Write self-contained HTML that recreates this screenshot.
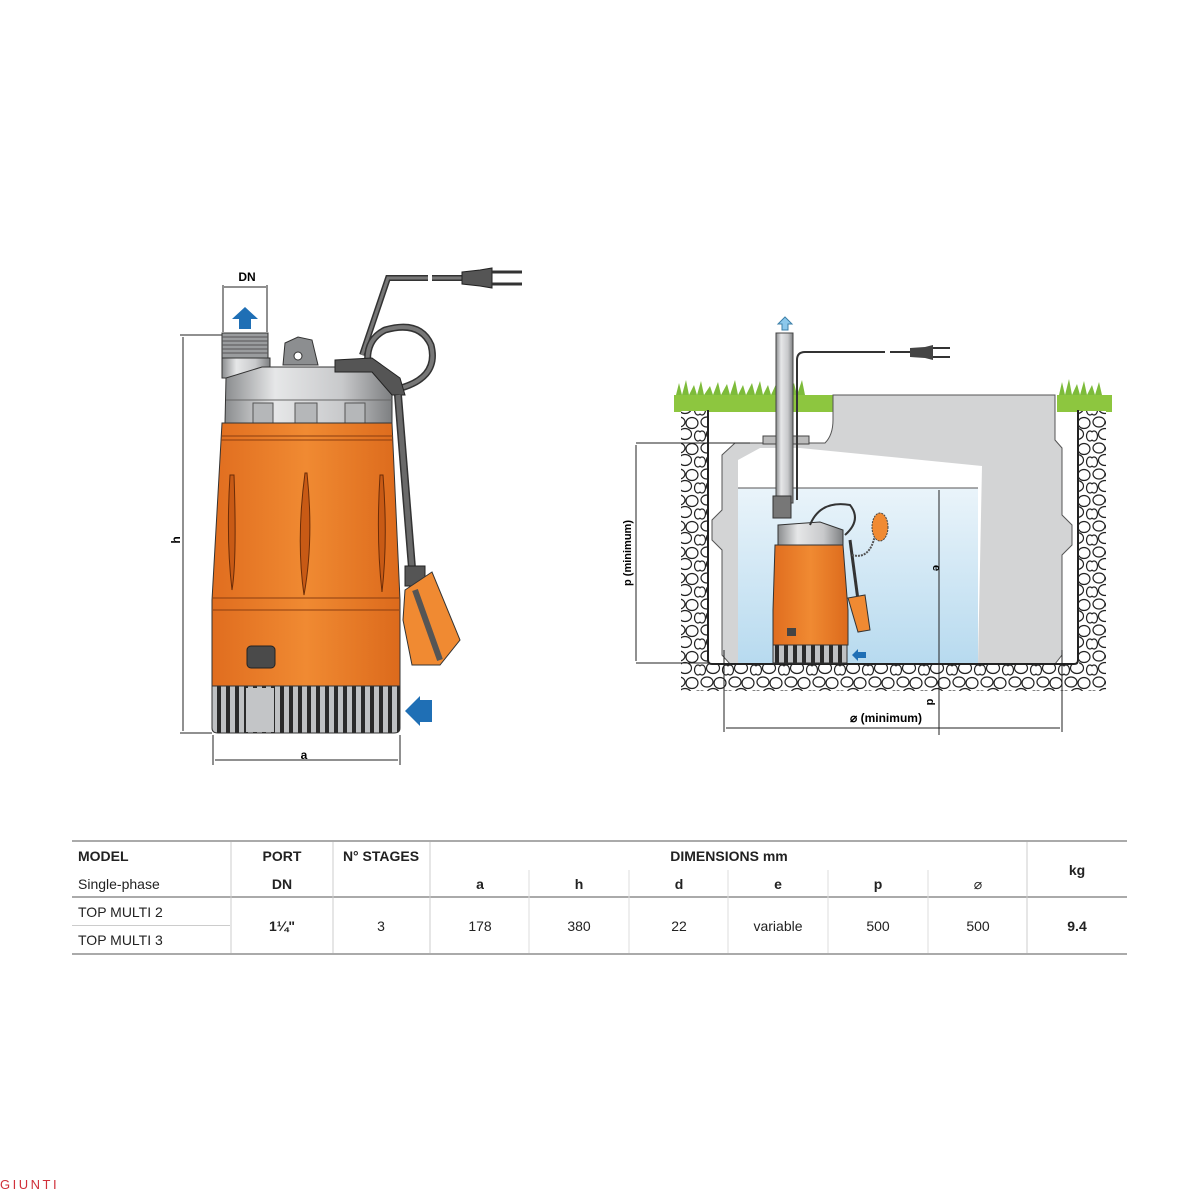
<!DOCTYPE html>
<html><head><meta charset="utf-8"><style>
html,body{margin:0;padding:0;background:#fff;width:1200px;height:1200px;overflow:hidden}
svg{display:block}
text{font-family:"Liberation Sans",sans-serif}
</style></head><body>
<svg width="1200" height="1200" viewBox="0 0 1200 1200" xmlns="http://www.w3.org/2000/svg">
<defs>
<pattern id="stones" width="28" height="26" patternUnits="userSpaceOnUse">
<rect width="28" height="26" fill="#fff"/>
<ellipse cx="7" cy="6" rx="6" ry="5" fill="#fff" stroke="#222" stroke-width="1.2"/>
<ellipse cx="20" cy="7" rx="6" ry="5.5" fill="#fff" stroke="#222" stroke-width="1.2"/>
<ellipse cx="13" cy="18" rx="6.5" ry="5.5" fill="#fff" stroke="#222" stroke-width="1.2"/>
<ellipse cx="26" cy="20" rx="3.5" ry="5" fill="#fff" stroke="#222" stroke-width="1.2"/>
<ellipse cx="2" cy="20" rx="3.5" ry="5" fill="#fff" stroke="#222" stroke-width="1.2"/>
</pattern>
<linearGradient id="water" x1="0" y1="0" x2="0" y2="1"><stop offset="0" stop-color="#eaf4fa"/><stop offset="1" stop-color="#b7daef"/></linearGradient>
<linearGradient id="silver" x1="0" y1="0" x2="1" y2="0"><stop offset="0" stop-color="#8a8c8e"/><stop offset=".3" stop-color="#e6e7e8"/><stop offset=".7" stop-color="#c8c9cb"/><stop offset="1" stop-color="#7d7f81"/></linearGradient>
<linearGradient id="orange" x1="0" y1="0" x2="1" y2="0"><stop offset="0" stop-color="#e06d1f"/><stop offset=".5" stop-color="#f08a32"/><stop offset="1" stop-color="#dc6a1c"/></linearGradient>
<pattern id="grill" width="9" height="50" patternUnits="userSpaceOnUse"><rect width="9" height="50" fill="#bfc1c3"/><rect x="1" width="4" height="50" fill="#2a2a2a"/></pattern>
</defs>

<!-- LEFT PUMP -->
<g stroke="#222" stroke-width="1">
<line x1="223" y1="285" x2="223" y2="332"/><line x1="267" y1="285" x2="267" y2="332"/>
<line x1="224" y1="287" x2="266" y2="287"/>
<line x1="180" y1="335" x2="222" y2="335"/><line x1="180" y1="733" x2="212" y2="733"/>
<line x1="183" y1="337" x2="183" y2="731"/>
<line x1="213" y1="735" x2="213" y2="765"/><line x1="400" y1="735" x2="400" y2="765"/>
<line x1="215" y1="760" x2="398" y2="760"/>
</g>
<text x="247" y="281" font-size="12" font-weight="bold" text-anchor="middle">DN</text>
<text x="304" y="759" font-size="12" font-weight="bold" text-anchor="middle">a</text>
<text x="180" y="540" font-size="12" font-weight="bold" text-anchor="middle" transform="rotate(-90 180 540)">h</text>
<path d="M245 307 L258 319 L251 319 L251 329 L239 329 L239 319 L232 319 Z" fill="#1f6fb5"/>
<rect x="222" y="333" width="46" height="26" fill="#9a9c9e" stroke="#333"/>
<g stroke="#555" stroke-width="1"><line x1="222" y1="337" x2="268" y2="337"/><line x1="222" y1="341" x2="268" y2="341"/><line x1="222" y1="345" x2="268" y2="345"/><line x1="222" y1="349" x2="268" y2="349"/><line x1="222" y1="353" x2="268" y2="353"/></g>
<rect x="222" y="358" width="48" height="20" fill="url(#silver)" stroke="#333"/>
<path d="M283 365 L285 343 L298 337 L312 340 L318 365 Z" fill="#8c8e90" stroke="#333"/>
<circle cx="298" cy="356" r="4" fill="#fff" stroke="#333"/>
<path d="M226 378 L262 367 L360 367 L392 376 L392 423 L225 423 Z" fill="url(#silver)" stroke="#333"/>
<path d="M226 400 L392 400" stroke="#666"/>
<rect x="253" y="403" width="20" height="20" fill="#b5b7b9" stroke="#555"/><rect x="295" y="403" width="22" height="20" fill="#b5b7b9" stroke="#555"/><rect x="345" y="403" width="20" height="20" fill="#b5b7b9" stroke="#555"/>
<path d="M222 423 L392 423 L400 600 L400 686 L212 686 L212 600 Z" fill="url(#orange)" stroke="#333"/>
<line x1="222" y1="436" x2="393" y2="436" stroke="#8a3d10"/><line x1="221" y1="440" x2="393" y2="440" stroke="#8a3d10"/>
<line x1="213" y1="598" x2="399" y2="598" stroke="#8a3d10"/><line x1="213" y1="610" x2="399" y2="610" stroke="#8a3d10"/>
<path d="M230 475 Q226 540 232 590 Q237 560 234 475 Z" fill="#c85a15" stroke="#6a2c08"/>
<path d="M305 473 Q296 540 304 595 Q314 540 307 473 Z" fill="#c85a15" stroke="#6a2c08"/>
<path d="M380 475 Q376 540 382 592 Q388 540 383 475 Z" fill="#c85a15" stroke="#6a2c08"/>
<rect x="247" y="646" width="28" height="22" rx="4" fill="#4a4a4a" stroke="#222"/>
<path d="M212 686 L400 686 L400 728 Q400 733 394 733 L218 733 Q212 733 212 728 Z" fill="url(#grill)" stroke="#333"/>
<rect x="246" y="688" width="28" height="44" fill="#c3c5c7"/>
<path d="M462 278 L432 278 M428 278 L388 278 L362 355" fill="none" stroke="#333" stroke-width="6"/>
<path d="M462 278 L432 278 M428 278 L388 278 L362 355" fill="none" stroke="#777" stroke-width="3"/>
<path d="M462 272 L480 270 L492 268 L492 288 L480 286 L462 284 Z" fill="#555" stroke="#222"/>
<line x1="492" y1="272" x2="522" y2="272" stroke="#333" stroke-width="3"/><line x1="492" y1="284" x2="522" y2="284" stroke="#333" stroke-width="3"/>
<path d="M393 390 Q440 380 431 345 Q420 320 385 330 Q365 340 368 365" fill="none" stroke="#333" stroke-width="7"/>
<path d="M393 390 Q440 380 431 345 Q420 320 385 330 Q365 340 368 365" fill="none" stroke="#777" stroke-width="4"/>
<path d="M335 360 L372 358 L400 378 L405 395 L392 395 L372 372 L335 372 Z" fill="#555" stroke="#222"/>
<path d="M398 395 L412 568" stroke="#333" stroke-width="8"/><path d="M398 395 L412 568" stroke="#6a6a6a" stroke-width="5"/>
<rect x="405" y="566" width="20" height="20" fill="#555" stroke="#222"/>
<path d="M405 590 L432 572 L460 640 L440 665 L412 665 L403 620 Z" fill="#f08a32" stroke="#333"/>
<path d="M415 590 L440 660" stroke="#555" stroke-width="6"/>
<path d="M432 700 L420 700 L420 696 L405 711 L420 726 L420 722 L432 722 Z" fill="#1f6fb5"/>

<!-- RIGHT DIAGRAM -->
<rect x="674" y="395" width="160" height="17" fill="#8dc63f"/>
<rect x="1057" y="395" width="55" height="17" fill="#8dc63f"/>
<path d="M676 395 l3 -12 l3 12 l4 -15 l3 15 l5 -10 l3 10 l4 -14 l3 14 l6 -9 l3 9 l5 -13 l3 13 l6 -11 l3 11 l5 -15 l3 15 l5 -10 l3 10 l6 -12 l3 12 l5 -14 l3 14 l5 -10 l3 10 l6 -13 l3 13 l5 -11 l3 11 l6 -12 l3 12 l5 -15 l3 15 Z" fill="#7dbb3a"/>
<path d="M1059 395 l3 -13 l3 13 l4 -16 l3 16 l5 -11 l3 11 l4 -14 l3 14 l5 -10 l3 10 l4 -13 l3 13 Z" fill="#7dbb3a"/>
<rect x="681" y="411" width="27" height="280" fill="url(#stones)"/>
<rect x="1079" y="411" width="27" height="280" fill="url(#stones)"/>
<rect x="681" y="664" width="425" height="27" fill="url(#stones)"/>
<path d="M833 395 L1055 395 L1055 440 L1062 448 L1062 515 L1072 525 L1072 545 L1062 555 L1062 655 L1055 664 L730 664 L722 655 L722 550 L712 540 L712 520 L722 510 L722 455 L735 443 L825 443 Q833 435 833 420 Z" fill="#d3d4d5" stroke="#555"/>
<path d="M738 460 L760 448 L800 448 L982 466 L978 664 L738 664 Z" fill="#fff"/>
<rect x="738" y="488" width="240" height="176" fill="url(#water)"/>
<line x1="738" y1="488" x2="978" y2="488" stroke="#555"/>
<path d="M708 410 L708 660 Q708 664 712 664 L1074 664 Q1078 664 1078 660 L1078 410" fill="none" stroke="#222" stroke-width="2"/>
<rect x="763" y="436" width="46" height="8" fill="#bbb" stroke="#444"/>
<rect x="776" y="333" width="17" height="170" fill="url(#silver)" stroke="#444"/>
<path d="M785 317 L792 324 L788 324 L788 330 L782 330 L782 324 L778 324 Z" fill="#8cc8ec" stroke="#3b7fa8"/>
<path d="M797 500 L797 360 Q797 352 805 352 L885 352 M890 352 L910 352" fill="none" stroke="#333" stroke-width="2"/>
<path d="M910 348 L925 347 L933 345 L933 360 L925 358 L910 357 Z" fill="#444"/>
<line x1="933" y1="348" x2="950" y2="348" stroke="#333" stroke-width="2"/><line x1="933" y1="357" x2="950" y2="357" stroke="#333" stroke-width="2"/>
<rect x="773" y="496" width="18" height="22" fill="#777" stroke="#333"/>
<path d="M778 525 L820 522 L843 530 L843 545 L778 545 Z" fill="url(#silver)" stroke="#333"/>
<path d="M775 545 L843 545 L848 610 L848 645 L773 645 L773 610 Z" fill="url(#orange)" stroke="#333"/>
<rect x="787" y="628" width="9" height="8" fill="#444"/>
<rect x="773" y="645" width="74" height="18" fill="url(#grill)" stroke="#333"/>
<path d="M810 525 Q820 500 850 505 Q862 520 845 535" fill="none" stroke="#333" stroke-width="2"/>
<path d="M850 540 L858 600" stroke="#333" stroke-width="3"/>
<path d="M848 598 L865 595 L870 630 L858 632 Z" fill="#f08a32" stroke="#333"/>
<path d="M852 555 Q870 560 875 535" fill="none" stroke="#555" stroke-width="2" stroke-dasharray="2 1"/>
<ellipse cx="880" cy="527" rx="8" ry="14" fill="#f08a32" stroke="#444" stroke-dasharray="2 1"/>
<path d="M858 649 L852 655 L858 661 Z M858 652 L866 652 L866 658 L858 658 Z" fill="#1f6fb5"/>
<g stroke="#222" stroke-width="1">
<line x1="636" y1="443" x2="750" y2="443"/><line x1="636" y1="663" x2="708" y2="663"/>
<line x1="636" y1="445" x2="636" y2="661"/>
<line x1="939" y1="490" x2="939" y2="735"/>
<line x1="724" y1="650" x2="724" y2="732"/><line x1="1062" y1="650" x2="1062" y2="732"/>
<line x1="726" y1="728" x2="1060" y2="728"/>
</g>
<text x="631" y="553" font-size="11" font-weight="bold" text-anchor="middle" transform="rotate(-90 631 553)">p (minimum)</text>
<text x="933" y="568" font-size="11" font-weight="bold" text-anchor="middle" transform="rotate(90 933 568)">e</text>
<text x="927" y="702" font-size="11" font-weight="bold" text-anchor="middle" transform="rotate(90 927 702)">d</text>
<text x="886" y="722" font-size="12" font-weight="bold" text-anchor="middle">⌀ (minimum)</text>

<!-- TABLE -->
<g stroke="#aaa">
<line x1="72" y1="841" x2="1127" y2="841" stroke-width="2"/>
<line x1="72" y1="897" x2="1127" y2="897" stroke-width="2"/>
<line x1="72" y1="954" x2="1127" y2="954" stroke-width="2"/>
<line x1="72" y1="925.5" x2="230" y2="925.5" stroke="#ccc"/>
<line x1="231" y1="842" x2="231" y2="953" stroke="#ccc"/>
<line x1="333" y1="842" x2="333" y2="953" stroke="#ccc"/>
<line x1="430" y1="842" x2="430" y2="953" stroke="#ccc"/>
<line x1="1027" y1="842" x2="1027" y2="953" stroke="#ccc"/>
<g stroke="#ddd"><line x1="529" y1="870" x2="529" y2="953"/><line x1="629" y1="870" x2="629" y2="953"/><line x1="728" y1="870" x2="728" y2="953"/><line x1="828" y1="870" x2="828" y2="953"/><line x1="928" y1="870" x2="928" y2="953"/></g>
</g>
<g font-size="14" fill="#222">
<text x="78" y="861" font-weight="bold">MODEL</text>
<text x="78" y="889">Single-phase</text>
<text x="282" y="861" font-weight="bold" text-anchor="middle">PORT</text>
<text x="282" y="889" font-weight="bold" text-anchor="middle">DN</text>
<text x="381" y="861" font-weight="bold" text-anchor="middle">N° STAGES</text>
<text x="729" y="861" font-weight="bold" text-anchor="middle">DIMENSIONS mm</text>
<text x="1077" y="875" font-weight="bold" text-anchor="middle">kg</text>
<g font-weight="bold" text-anchor="middle">
<text x="480" y="889">a</text><text x="579" y="889">h</text><text x="679" y="889">d</text><text x="778" y="889">e</text><text x="878" y="889">p</text><text x="978" y="889" font-weight="normal">⌀</text>
</g>
<text x="78" y="917">TOP MULTI 2</text>
<text x="78" y="945">TOP MULTI 3</text>
<g text-anchor="middle">
<text x="282" y="931" font-weight="bold">1¼"</text>
<text x="381" y="931">3</text><text x="480" y="931">178</text><text x="579" y="931">380</text><text x="679" y="931">22</text><text x="778" y="931">variable</text><text x="878" y="931">500</text><text x="978" y="931">500</text>
<text x="1077" y="931" font-weight="bold">9.4</text>
</g>
</g>
<text x="0" y="1189" font-size="13" fill="#d0303a" letter-spacing="2.5">GIUNTI</text>
</svg>
</body></html>
